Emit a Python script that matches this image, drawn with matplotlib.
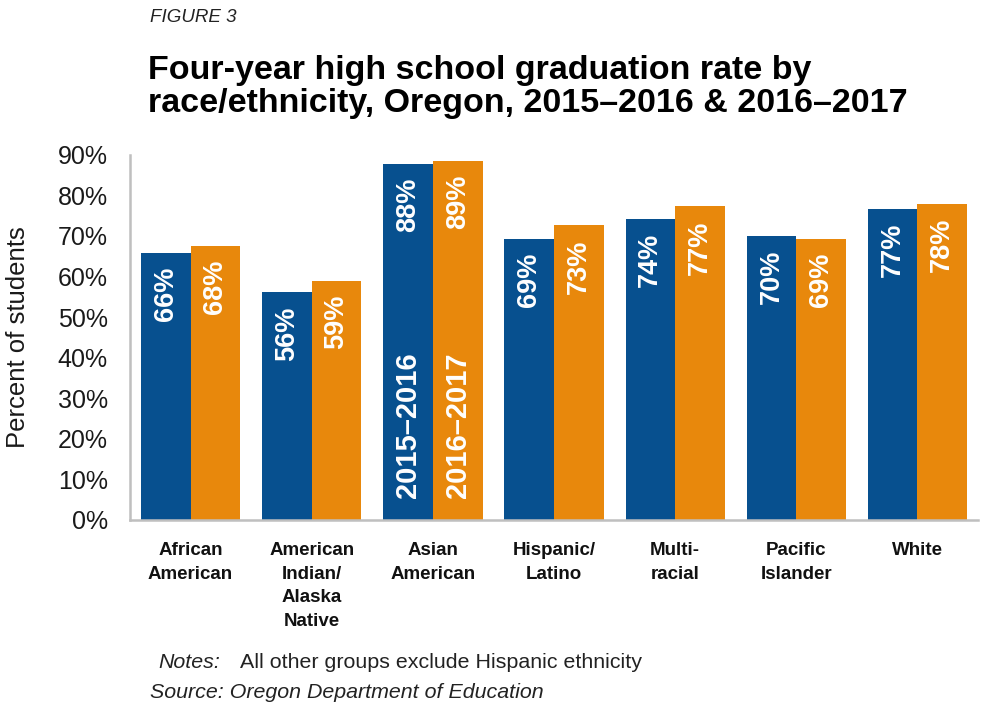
import numpy as np
import matplotlib
matplotlib.use("Agg")
import matplotlib.pyplot as plt

plt.rcParams['font.family'] = ['Liberation Sans', 'DejaVu Sans']

# Data
categories = ["African\nAmerican", "American\nIndian/\nAlaska\nNative", "Asian\nAmerican",
              "Hispanic/\nLatino", "Multi-\nracial", "Pacific\nIslander", "White"]
rate_2016 = [65.8, 56.1, 87.7, 69.3, 74.1, 70.0, 76.6]
rate_2017 = [67.6, 58.9, 88.6, 72.6, 77.3, 69.3, 77.9]
series_names = ["2015\u20132016", "2016\u20132017"]
yticks = [0, 10, 20, 30, 40, 50, 60, 70, 80, 90]

blue = "#07508f"
orange = "#e8880c"
axis_grey = "#bfbfbf"

fig = plt.figure(figsize=(9.81, 7.07), dpi=100)
ax = fig.add_axes([0.1325, 0.2645, 0.8645, 0.5165])

x = np.arange(len(categories))
w = 0.41
b1 = ax.bar(x - w / 2, rate_2016, w, color=blue, zorder=2)
b2 = ax.bar(x + w / 2, rate_2017, w, color=orange, zorder=2)

# value labels inside the bars, rotated
for bars, vals in ((b1, rate_2016), (b2, rate_2017)):
    for rect, v in zip(bars, vals):
        cx = rect.get_x() + rect.get_width() / 2
        ax.annotate(f"{round(v)}%", (cx, v), xytext=(0, -10), textcoords="offset points",
                    rotation=90, ha="center", va="top", color="white",
                    fontsize=19.5, fontweight="bold")

# series names inside the Asian American bars
asian = 2
for rect, name in ((b1[asian], series_names[0]), (b2[asian], series_names[1])):
    cx = rect.get_x() + rect.get_width() / 2
    ax.annotate(name, (cx, 0), xytext=(0, 16), textcoords="offset points",
                rotation=90, ha="center", va="bottom", color="white",
                fontsize=21, fontweight="bold")

ax.set_xlim(-0.5, len(categories) - 0.5)
ax.set_ylim(0, 90)
ax.set_yticks(yticks)
ax.set_yticklabels([f"{t}%" for t in yticks], fontsize=18, color="#1a1a1a")
ax.set_xticks(x)
ax.set_xticklabels(categories, fontsize=13.5, fontweight="bold", linespacing=1.5,
                   va="top", color="#111111")
ax.tick_params(axis="both", length=0)
ax.tick_params(axis="x", pad=16)
ax.tick_params(axis="y", pad=16)
ax.set_ylabel("Percent of students", fontsize=18.5, color="#1a1a1a", labelpad=20)

for s in ("top", "right"):
    ax.spines[s].set_visible(False)
for s in ("left", "bottom"):
    ax.spines[s].set_color(axis_grey)
    ax.spines[s].set_linewidth(1.8)

fig.text(150 / 981, 1 - 18 / 707, "FIGURE 3", fontsize=13.5, style="italic",
         ha="left", va="center", color="#222222")
fig.text(148 / 981, 1 - 87 / 707,
         "Four-year high school graduation rate by\nrace/ethnicity, Oregon, 2015\u20132016 & 2016\u20132017",
         fontsize=24.5, fontweight="bold", ha="left", va="center", linespacing=1.05)
fig.text(158 / 981, 1 - 662 / 707, "Notes:", fontsize=15.4, style="italic",
         ha="left", va="center", color="#222222")
fig.text(240 / 981, 1 - 662 / 707, "All other groups exclude Hispanic ethnicity",
         fontsize=15.4, ha="left", va="center", color="#222222")
fig.text(150 / 981, 1 - 692 / 707, "Source: Oregon Department of Education",
         fontsize=15.4, style="italic", ha="left", va="center", color="#222222")

fig.savefig("out.png", dpi=100)
